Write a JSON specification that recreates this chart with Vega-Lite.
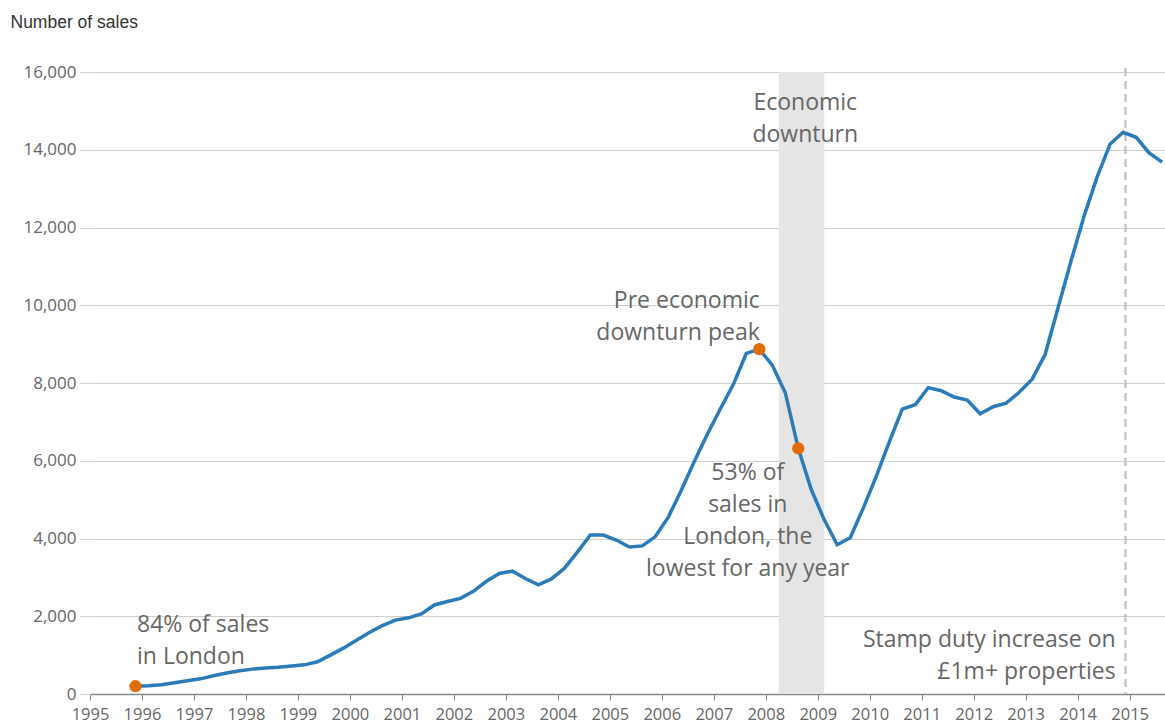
{
  "$schema": "https://vega.github.io/schema/vega-lite/v6.json",
  "width": 1075,
  "height": 622,
  "autosize": {"type": "none"},
  "padding": {"left": 90, "top": 72, "right": 0, "bottom": 33},
  "background": "white",
  "config": {
    "view": {"stroke": null},
    "font": "Open Sans"
  },
  "datasets": {
    "sales": [
      {"t": 1995.875, "v": 200}, {"t": 1996.125, "v": 215}, {"t": 1996.375, "v": 240}, {"t": 1996.625, "v": 290},
      {"t": 1996.875, "v": 340}, {"t": 1997.125, "v": 390}, {"t": 1997.375, "v": 470}, {"t": 1997.625, "v": 540},
      {"t": 1997.875, "v": 600}, {"t": 1998.125, "v": 640}, {"t": 1998.375, "v": 670}, {"t": 1998.625, "v": 690},
      {"t": 1998.875, "v": 720}, {"t": 1999.125, "v": 750}, {"t": 1999.375, "v": 830}, {"t": 1999.625, "v": 1000},
      {"t": 1999.875, "v": 1180}, {"t": 2000.125, "v": 1380}, {"t": 2000.375, "v": 1580}, {"t": 2000.625, "v": 1760},
      {"t": 2000.875, "v": 1900}, {"t": 2001.125, "v": 1960}, {"t": 2001.375, "v": 2060}, {"t": 2001.625, "v": 2290},
      {"t": 2001.875, "v": 2380}, {"t": 2002.125, "v": 2460}, {"t": 2002.375, "v": 2640}, {"t": 2002.625, "v": 2900},
      {"t": 2002.875, "v": 3100}, {"t": 2003.125, "v": 3160}, {"t": 2003.375, "v": 2970}, {"t": 2003.625, "v": 2810},
      {"t": 2003.875, "v": 2960}, {"t": 2004.125, "v": 3230}, {"t": 2004.375, "v": 3650}, {"t": 2004.625, "v": 4090},
      {"t": 2004.875, "v": 4090}, {"t": 2005.125, "v": 3960}, {"t": 2005.375, "v": 3780}, {"t": 2005.625, "v": 3810},
      {"t": 2005.875, "v": 4050}, {"t": 2006.125, "v": 4550}, {"t": 2006.375, "v": 5240}, {"t": 2006.625, "v": 5980},
      {"t": 2006.875, "v": 6680}, {"t": 2007.125, "v": 7330}, {"t": 2007.375, "v": 7960}, {"t": 2007.625, "v": 8760},
      {"t": 2007.875, "v": 8870}, {"t": 2008.125, "v": 8460}, {"t": 2008.375, "v": 7750}, {"t": 2008.625, "v": 6320},
      {"t": 2008.875, "v": 5260}, {"t": 2009.125, "v": 4480}, {"t": 2009.375, "v": 3840}, {"t": 2009.625, "v": 4020},
      {"t": 2009.875, "v": 4780}, {"t": 2010.125, "v": 5600}, {"t": 2010.375, "v": 6480}, {"t": 2010.625, "v": 7330},
      {"t": 2010.875, "v": 7440}, {"t": 2011.125, "v": 7880}, {"t": 2011.375, "v": 7800}, {"t": 2011.625, "v": 7640},
      {"t": 2011.875, "v": 7560}, {"t": 2012.125, "v": 7210}, {"t": 2012.375, "v": 7390}, {"t": 2012.625, "v": 7480},
      {"t": 2012.875, "v": 7760}, {"t": 2013.125, "v": 8100}, {"t": 2013.375, "v": 8740}, {"t": 2013.625, "v": 9950},
      {"t": 2013.875, "v": 11150}, {"t": 2014.125, "v": 12300}, {"t": 2014.375, "v": 13300}, {"t": 2014.625, "v": 14150},
      {"t": 2014.875, "v": 14450}, {"t": 2015.125, "v": 14320}, {"t": 2015.375, "v": 13920}, {"t": 2015.625, "v": 13680}
    ],
    "dots": [
      {"t": 1995.875, "v": 200}, {"t": 2007.875, "v": 8870}, {"t": 2008.625, "v": 6320}
    ]
  },
  "layer": [
    {
      "data": {"values": [{"start": 2008.25, "end": 2009.125}]},
      "mark": {"type": "rect", "color": "#e5e5e5"},
      "encoding": {
        "x": {"field": "start", "type": "quantitative", "scale": {"domain": [1995, 2015.68], "nice": false, "zero": false},
          "axis": {"values": [1995,1996,1997,1998,1999,2000,2001,2002,2003,2004,2005,2006,2007,2008,2009,2010,2011,2012,2013,2014,2015],
            "format": "d", "title": null, "grid": false, "domainColor": "#888", "domainWidth": 1.5, "tickColor": "#888", "tickSize": 6,
            "labelOverlap": false, "labelFlush": false, "labelBound": false,
            "labelFontSize": 16.5, "labelColor": "#666", "labelPadding": 6, "labelFont": "Open Sans"}},
        "x2": {"field": "end"}
      }
    },
    {
      "data": {"values": [{"t": 2014.92, "top": 16100, "bottom": 0}]},
      "mark": {"type": "rule", "color": "#c8c8c8", "strokeWidth": 2.5, "strokeDash": [8, 5]},
      "encoding": {
        "x": {"field": "t", "type": "quantitative"},
        "y": {"field": "top", "type": "quantitative"},
        "y2": {"field": "bottom"}
      }
    },
    {
      "data": {"name": "sales"},
      "mark": {"type": "line", "color": "#2b7bb9", "strokeWidth": 3.5, "clip": true},
      "encoding": {
        "x": {"field": "t", "type": "quantitative"},
        "y": {"field": "v", "type": "quantitative",
          "scale": {"domain": [0, 16000], "nice": false},
          "axis": {"values": [0,2000,4000,6000,8000,10000,12000,14000,16000], "format": ",d",
            "domain": false, "grid": true, "gridColor": "#cfcfcf", "tickColor": "#cfcfcf", "tickSize": 10,
            "labelFontSize": 17, "labelColor": "#666", "labelPadding": 4, "labelFont": "Open Sans",
            "title": "Number of sales", "titleAngle": 0, "titleX": -80, "titleY": -50, "titleAlign": "left",
            "titleBaseline": "middle", "titleFont": "Liberation Sans", "titleFontSize": 17.5, "titleFontWeight": "normal", "titleColor": "#333"}}
      }
    },
    {
      "data": {"name": "dots"},
      "mark": {"type": "circle", "color": "#e36c0a", "opacity": 1, "size": 150},
      "encoding": {
        "x": {"field": "t", "type": "quantitative"},
        "y": {"field": "v", "type": "quantitative"}
      }
    },
    {
      "data": {"values": [
        {"t": 2008.76, "v": 15020, "label": "Economic|downturn"},
        {"t": 2007.654, "v": 5504, "label": "53% of|sales in|London, the|lowest for any year"}
      ]},
      "mark": {"type": "text", "align": "center", "baseline": "alphabetic", "lineBreak": "|", "lineHeight": 32, "fontSize": 23, "font": "Open Sans", "color": "#666"},
      "encoding": {
        "x": {"field": "t", "type": "quantitative"},
        "y": {"field": "v", "type": "quantitative"},
        "text": {"field": "label"}
      }
    },
    {
      "data": {"values": [
        {"t": 2007.885, "v": 9928, "label": "Pre economic|downturn peak"},
        {"t": 2014.73, "v": 1209, "label": "Stamp duty increase on|£1m+ properties"}
      ]},
      "mark": {"type": "text", "align": "right", "baseline": "alphabetic", "lineBreak": "|", "lineHeight": 32, "fontSize": 23, "font": "Open Sans", "color": "#666"},
      "encoding": {
        "x": {"field": "t", "type": "quantitative"},
        "y": {"field": "v", "type": "quantitative"},
        "text": {"field": "label"}
      }
    },
    {
      "data": {"values": [
        {"t": 1995.904, "v": 1595, "label": "84% of sales|in London"}
      ]},
      "mark": {"type": "text", "align": "left", "baseline": "alphabetic", "lineBreak": "|", "lineHeight": 32, "fontSize": 23, "font": "Open Sans", "color": "#666"},
      "encoding": {
        "x": {"field": "t", "type": "quantitative"},
        "y": {"field": "v", "type": "quantitative"},
        "text": {"field": "label"}
      }
    }
  ]
}
